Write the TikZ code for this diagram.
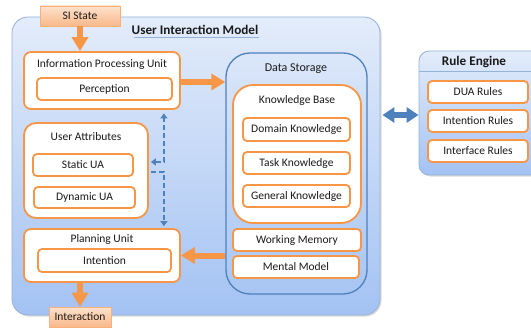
\documentclass[tikz,border=0pt]{standalone}
\usepackage{fontspec}
\setmainfont{Carlito}
\usetikzlibrary{arrows.meta,shadows,calc}
\definecolor{orng}{HTML}{F79646}
\definecolor{bluel}{HTML}{4F81BD}
\definecolor{bgtop}{HTML}{E3ECFA}
\definecolor{bgbot}{HTML}{A3C2F3}
\definecolor{pchtop}{HTML}{FDE2CC}
\definecolor{pchbot}{HTML}{F9B88A}
\definecolor{frameblue}{HTML}{95B3D7}
\definecolor{txt}{HTML}{1A1A1A}
\tikzset{
  every node/.style={font=\fontsize{11.5}{13}\selectfont, text=txt, inner sep=0pt},
  container/.style={draw=frameblue, line width=0.8pt, rounded corners=16pt, top color=bgtop, bottom color=bgbot,
     drop shadow={opacity=0.3, shadow xshift=1.5pt, shadow yshift=-1.5pt}},
  obox/.style={draw=orng, line width=1.8pt, fill=white, rounded corners=7pt},
  ibox/.style={draw=orng, line width=1.8pt, fill=white, rounded corners=4pt},
  peach/.style={draw=pchbot!80!orng, line width=0.6pt, top color=pchtop, bottom color=pchbot,
     drop shadow={opacity=0.25, shadow xshift=1pt, shadow yshift=-1pt}},
  bigarrow/.style={draw=orng, line width=6pt, -{Triangle[length=14pt,width=16pt]}},
  dblarrow/.style={draw=bluel, line width=5.5pt, {Triangle[length=12pt,width=15pt]}-{Triangle[length=12pt,width=15pt]}},
  dashconn/.style={draw=bluel, line width=1.9pt, dash pattern=on 5pt off 3pt},
  tipend/.style={-{Triangle[length=5pt,width=7pt]}},
  tipboth/.style={{Triangle[length=5pt,width=7pt]}-{Triangle[length=5pt,width=7pt]}},
  titleb/.style={font=\fontsize{13.2}{15}\selectfont\bfseries},
}
\begin{document}
\begin{tikzpicture}[x=1pt,y=-1pt]
\useasboundingbox (0,0) rectangle (531,329);

% outer containers
\node[container, minimum width=368pt, minimum height=298pt] (uim) at (196,166) {};
\node[titleb] (uimt) at (195,30) {User Interaction Model};
\draw[frameblue, line width=0.6pt] (uimt.south west) ++(3pt,-2.5pt) coordinate (ul1) -- (ul1 -| uimt.south east);

\begin{scope}
\clip (0,0) rectangle (531,329);
\node[container, rounded corners=10pt, minimum width=126pt, minimum height=124pt] (re) at (482,113) {};
\end{scope}
\node[titleb] (ret) at (474,62) {Rule Engine};
\draw[frameblue, line width=0.6pt] (re.west |- 0,71) coordinate (rl1) -- (531,71);

% SI State
\node[peach, minimum width=80pt, minimum height=20pt] (si) at (80,16) {SI State};

% Information processing unit
\node[obox, minimum width=156pt, minimum height=57pt] (ipu) at (102,80.5) {};
\node (ipuT) at (102,65) {Information Processing Unit};
\node[ibox, minimum width=135pt, minimum height=22pt] (perc) at (104.5,89) {Perception};

% User attributes
\node[obox, rounded corners=12pt, minimum width=124pt, minimum height=95pt] (ua) at (86,170.5) {};
\node (uaT) at (86,137) {User Attributes};
\node[ibox, minimum width=100pt, minimum height=22pt] (sua) at (83,165) {Static UA};
\node[ibox, minimum width=101pt, minimum height=21pt] (dua) at (84.5,197.5) {Dynamic UA};

% Planning unit
\node[obox, minimum width=156pt, minimum height=53pt] (pu) at (102,255.5) {};
\node (puT) at (102,239) {Planning Unit};
\node[ibox, minimum width=133pt, minimum height=23pt] (intn) at (104.5,260.5) {Intention};

% Interaction
\node[peach, minimum width=62pt, minimum height=20pt] (inter) at (80,317) {Interaction};

% Data storage
\node[draw=bluel, line width=1.3pt, rounded corners=24pt, minimum width=141pt, minimum height=241pt] (ds) at (296.5,173.5) {};
\node[font=\fontsize{12}{14}\selectfont] (dsT) at (296,69) {Data Storage};
\node[obox, rounded corners=20pt, minimum width=128pt, minimum height=138pt] (kb) at (297,154) {};
\node (kbT) at (297,100) {Knowledge Base};
\node[ibox, minimum width=107pt, minimum height=23pt] (dk) at (296.5,129.5) {Domain Knowledge};
\node[ibox, minimum width=107pt, minimum height=22pt] (tk) at (296.5,163) {Task Knowledge};
\node[ibox, minimum width=107pt, minimum height=22pt] (gk) at (296.5,196) {General Knowledge};
\node[ibox, minimum width=128pt, minimum height=22pt] (wm) at (297,240) {Working Memory};
\node[ibox, minimum width=126pt, minimum height=22pt] (mm) at (296,267) {Mental Model};

% Rule engine rules
\node[ibox, minimum width=100pt, minimum height=22pt] (duar) at (478,92) {DUA Rules};
\node[ibox, minimum width=100pt, minimum height=22pt] (intr) at (478,121) {Intention Rules};
\node[ibox, minimum width=100pt, minimum height=22pt] (ifr) at (478,151) {Interface Rules};

% arrows
\draw[bigarrow] (si.south) -- (si.south |- ipu.north);
\draw[bigarrow] ([yshift=-1.5pt]ipu.east) -- ([yshift=-1.5pt]ipu.east -| ds.west);
\draw[bigarrow] (ds.west |- pu.east) -- (pu.east);
\draw[bigarrow] (pu.south -| inter.north) -- (inter.north);
\draw[dblarrow] ([xshift=2pt,yshift=-2pt]uim.east |- re.west) -- ([yshift=-2pt]re.west);

% dashed connectors
\draw[dashconn, tipboth] ([xshift=2pt,yshift=8.5pt]ua.east) -| ([xshift=-17pt,yshift=-3.5pt]ipu.south east);
\draw[dashconn, tipend] ([xshift=2pt,yshift=-1.5pt]ua.east) -| ([xshift=-17pt,yshift=2pt]pu.north east);
\end{tikzpicture}
\end{document}
